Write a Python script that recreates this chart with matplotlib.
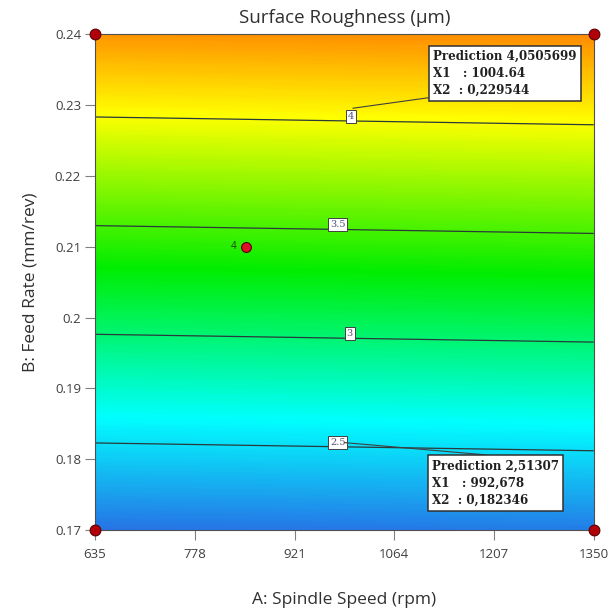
import matplotlib
matplotlib.use('Agg')
import matplotlib.pyplot as plt
import numpy as np
from matplotlib.colors import LinearSegmentedColormap

# corner values of the fitted surface
speed = [635, 1350]
feed = [0.17, 0.24]
ra_grid = [[2.099, 2.135],   # feed 0.17
           [4.381, 4.417]]   # feed 0.24
levels = [2.5, 3, 3.5, 4]
label_speed = [983, 1000, 983, 1002]

x_ticks = [635, 778, 921, 1064, 1207, 1350]
y_ticks = [0.17, 0.18, 0.19, 0.2, 0.21, 0.22, 0.23, 0.24]
y_labels = ['0.17', '0.18', '0.19', '0.2', '0.21', '0.22', '0.23', '0.24']

design_x = [635, 635, 1350, 1350]
design_y = [0.17, 0.24, 0.17, 0.24]
center_x, center_y, center_n = 852, 0.21, '4'

pred1 = (1004.64, 0.229544, 'Prediction 4,0505699\nX1   : 1004.64\nX2  : 0,229544')
pred2 = (992.678, 0.182346, 'Prediction 2,51307\nX1   : 992,678\nX2  : 0,182346')

S, F = np.meshgrid(speed, feed)
R = np.array(ra_grid)
vmin, vmax = R.min(), R.max()

def pos(v):
    return (v - vmin) / (vmax - vmin)

cmap = LinearSegmentedColormap.from_list('de', [
    (0.0, (0.15, 0.45, 0.90)),
    (pos(2.62), (0.0, 1.0, 1.0)),
    (pos(3.31), (0.0, 0.93, 0.0)),
    (pos(4.02), (1.0, 1.0, 0.0)),
    (1.0, (1.0, 0.55, 0.0)),
])

plt.rcParams['font.family'] = ['Open Sans', 'DejaVu Sans']
fig = plt.figure(figsize=(6.09, 6.10), dpi=100)
ax = fig.add_axes([0.156, 0.131, 0.819, 0.813])

ax.contourf(S, F, R, levels=np.linspace(vmin, vmax, 300), cmap=cmap)
cs = ax.contour(S, F, R, levels=levels, colors='#2a3a3a', linewidths=0.9)
manual = []
for lv, xs in zip(levels, label_speed):
    # feed where the level crosses at that speed (linear surface)
    t = (xs - speed[0]) / (speed[1] - speed[0])
    lo = R[0, 0] + t * (R[0, 1] - R[0, 0])
    hi = R[1, 0] + t * (R[1, 1] - R[1, 0])
    manual.append((xs, feed[0] + (lv - lo) / (hi - lo) * (feed[1] - feed[0])))
labs = ax.clabel(cs, levels, inline=False, manual=manual, fmt='%g', fontsize=7, colors='#505070')
for t in labs:
    t.set_bbox(dict(boxstyle='square,pad=0.2', fc='white', ec='#404040', lw=0.7))
    t.set_rotation(0)
    t.set_family('DejaVu Serif')
    t.set_va('bottom')

ax.scatter(design_x, design_y, s=60, c='#b0000a', edgecolors='#600000', lw=0.8, zorder=5, clip_on=False)
ax.scatter([center_x], [center_y], s=50, c='#e0102a', edgecolors='#500000', lw=0.8, zorder=5)
ax.annotate(center_n, (center_x, center_y), xytext=(-9, 0), textcoords='offset points',
            fontsize=7, color='#204020', ha='center', va='center')

for (px, py, txt), off, va, rel in zip([pred1, pred2], [(57.6, 8), (63, -12.2)],
                                       ['bottom', 'top'], [(0, 0), (0.85, 1)]):
    ax.annotate(txt, (px, py), xytext=off, textcoords='offset points',
                fontsize=8.6, family='DejaVu Serif', weight='bold',
                color='#202020', linespacing=1.4, ha='left', va=va,
                bbox=dict(boxstyle='square,pad=0.35', fc='white', ec='#303030', lw=1.1),
                arrowprops=dict(arrowstyle='-', color='#404040', lw=0.8,
                                shrinkA=0, shrinkB=0, relpos=rel),
                zorder=6)

ax.set_xlim(speed)
ax.set_ylim(feed)
ax.set_xticks(x_ticks)
ax.set_yticks(y_ticks)
ax.set_yticklabels(y_labels)
ax.tick_params(axis='both', length=7, color='#808080', labelsize=9.5, labelcolor='#404040', pad=3)
ax.tick_params(axis='x', pad=6)
for sp in ax.spines.values():
    sp.set_color('#505050')
    sp.set_linewidth(0.8)

ax.set_title('Surface Roughness (µm)', fontsize=13.5, color='#303030', pad=8)
ax.set_xlabel('A: Spindle Speed (rpm)', fontsize=12.5, color='#303030', labelpad=22)
ax.set_ylabel('B: Feed Rate (mm/rev)', fontsize=12.5, color='#303030', labelpad=12)

fig.savefig('out.png', dpi=100)
